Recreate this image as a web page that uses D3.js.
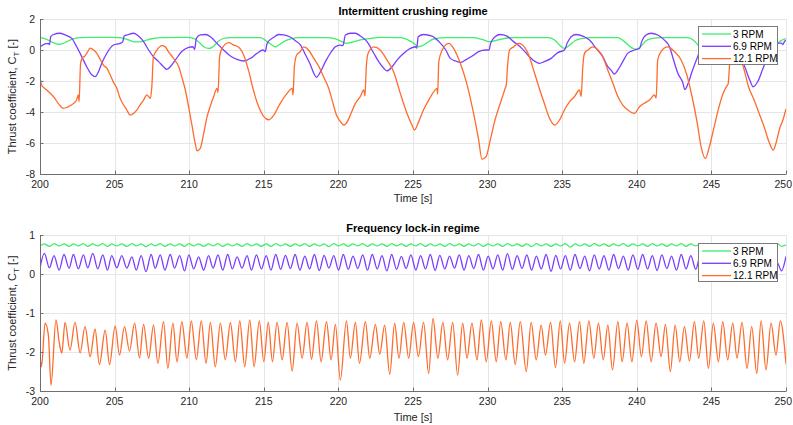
<!DOCTYPE html>
<html><head><meta charset="utf-8">
<script src="https://cdn.jsdelivr.net/npm/d3@7/dist/d3.min.js"></script>
<style>body{margin:0;background:#fff}svg{display:block;font-family:"Liberation Sans",Arial,sans-serif}</style>
</head><body><svg id="c" width="793" height="425"></svg>
<script>
// ---------- DATA ----------
const seriesNames = ["3 RPM", "6.9 RPM", "12.1 RPM"];
const xTicks = [200,205,210,215,220,225,230,235,240,245,250];
const yTicksTop = [-8,-6,-4,-2,0,2];
const yTicksBot = [-3,-2,-1,0,1];
const titles = ["Intermittent crushing regime", "Frequency lock-in regime"];

// Intermittent crushing: [time s, C_T]
const crush3 = [[200,0.82],[200.45,0.69],[200.9,0.47],[201.23,0.37],[201.45,0.39],[201.8,0.54],[202.13,0.69],[202.7,0.8],[203.36,0.82],[204.7,0.82],[205.37,0.8],[205.93,0.65],[206.27,0.54],[206.6,0.52],[206.94,0.58],[207.4,0.71],[208.06,0.8],[209.85,0.82],[210.3,0.75],[210.63,0.54],[210.97,0.21],[211.3,0.1],[211.53,0.17],[211.86,0.47],[212.2,0.71],[212.76,0.8],[214.77,0.8],[215.0,0.7],[215.22,0.54],[215.56,0.32],[215.78,0.21],[216.0,0.32],[216.34,0.54],[216.8,0.71],[217.46,0.8],[219.24,0.8],[219.8,0.71],[220.25,0.54],[220.53,0.43],[220.9,0.5],[221.47,0.65],[222.14,0.75],[222.8,0.82],[224.15,0.8],[224.6,0.69],[225.05,0.43],[225.38,0.21],[225.6,0.26],[225.94,0.47],[226.38,0.71],[227.28,0.8],[229.06,0.8],[229.73,0.65],[230.07,0.54],[230.4,0.58],[230.85,0.69],[231.74,0.8],[234.04,0.8],[234.49,0.65],[234.82,0.32],[235.15,0.1],[235.5,0.32],[235.83,0.58],[236.27,0.73],[236.94,0.8],[238.73,0.8],[239.17,0.54],[239.62,0.17],[239.96,0.04],[240.29,0.26],[240.62,0.6],[241.07,0.75],[241.63,0.8],[243.42,0.8],[243.86,0.58],[244.2,0.21],[244.5,0.0],[244.8,0.2],[245.2,0.6],[245.7,0.78],[246.3,0.8],[248.3,0.8],[248.7,0.6],[249.1,0.35],[249.4,0.45],[249.7,0.62],[250,0.73]];

const crush69 = [[200,0.21],[200.34,0.39],[200.56,0.43],[200.63,0.35],[200.72,0.86],[200.9,1.0],[201.34,1.08],[201.68,0.97],[202.13,0.75],[202.46,0.21],[202.8,-0.43],[203.13,-1.08],[203.47,-1.6],[203.7,-1.72],[203.92,-1.4],[204.14,-0.86],[204.48,-0.21],[204.92,0.32],[205.37,0.43],[205.55,0.54],[205.64,0.9],[205.93,1.0],[206.27,1.08],[206.6,0.9],[206.94,0.54],[207.28,0.0],[207.6,-0.43],[207.95,-0.75],[208.28,-1.08],[208.5,-1.25],[208.73,-1.08],[209.07,-0.65],[209.5,-0.1],[209.96,0.17],[210.25,0.21],[210.36,0.04],[210.48,0.75],[210.74,0.97],[211.08,1.0],[211.42,0.86],[211.86,0.43],[212.31,0.0],[212.76,-0.39],[213.2,-0.6],[213.65,-0.71],[214.1,-0.54],[214.55,-0.21],[214.95,0.0],[215.1,-0.1],[215.22,0.43],[215.67,0.82],[216.0,1.0],[216.34,0.97],[216.8,0.82],[217.12,0.6],[217.46,0.32],[217.8,-0.32],[218.13,-0.97],[218.35,-1.5],[218.53,-1.76],[218.8,-1.4],[219.13,-0.75],[219.46,-0.21],[219.8,0.21],[220.1,0.32],[220.3,0.28],[220.47,0.97],[220.8,1.08],[221.14,1.08],[221.47,0.9],[221.92,0.54],[222.37,-0.21],[222.7,-0.75],[223.04,-1.18],[223.26,-1.35],[223.6,-1.08],[223.93,-0.65],[224.38,-0.21],[224.82,0.1],[225.16,0.21],[225.25,0.12],[225.35,0.86],[225.72,1.0],[226.28,0.9],[226.74,0.54],[227.2,0.0],[227.5,-0.54],[227.85,-0.71],[228.2,-0.8],[228.5,-0.65],[228.97,-0.39],[229.4,-0.1],[229.87,0.0],[230.1,0.0],[230.2,0.43],[230.5,0.86],[230.85,1.0],[231.3,0.9],[231.74,0.54],[232.2,0.2],[232.7,-0.32],[233.04,-0.65],[233.48,-0.86],[233.8,-0.75],[234.26,-0.54],[234.7,-0.17],[235.15,0.0],[235.33,0.43],[235.6,0.86],[235.94,1.0],[236.38,0.9],[236.83,0.64],[237.28,0.1],[237.72,-0.43],[238.06,-1.08],[238.28,-1.3],[238.5,-1.55],[238.73,-1.3],[239.06,-0.75],[239.4,-0.2],[239.84,0.0],[240.18,0.1],[240.33,0.54],[240.62,0.97],[240.96,1.08],[241.4,0.97],[241.85,0.64],[242.2,0.2],[242.45,-0.6],[242.75,-1.5],[243.08,-2.1],[243.22,-2.55],[243.42,-2.2],[243.7,-1.4],[244.05,-0.5],[244.3,0.1],[244.6,0.45],[244.75,0.4],[244.85,0.85],[245.2,1.0],[245.6,0.95],[246.0,0.7],[246.5,0.2],[246.9,-0.5],[247.2,-1.0],[247.57,-1.94],[247.8,-2.37],[248.1,-2.05],[248.46,-1.18],[248.8,-0.4],[249.2,0.2],[249.5,0.45],[249.7,0.45],[249.78,0.35],[249.9,0.55],[250,0.62]];

const crush121 = [[200,-1.72],[200.1,-2.26],[200.45,-2.58],[200.9,-3.0],[201.35,-3.6],[201.57,-3.76],[201.8,-3.7],[202.1,-3.55],[202.45,-3.23],[202.57,-2.9],[202.62,-3.33],[202.72,-0.86],[202.85,-0.5],[203.0,-0.4],[203.2,-0.1],[203.36,0.12],[203.6,0.0],[203.8,-0.2],[204.0,-0.54],[204.25,-0.97],[204.5,-1.2],[204.7,-1.6],[204.9,-2.04],[205.15,-2.47],[205.37,-3.12],[205.6,-3.55],[205.82,-3.87],[206.04,-4.2],[206.27,-4.1],[206.5,-3.87],[206.7,-3.55],[206.94,-3.23],[207.16,-2.9],[207.4,-3.12],[207.5,-2.3],[207.6,-0.43],[207.84,0.0],[208.17,0.28],[208.4,0.2],[208.6,-0.1],[208.95,-0.54],[209.3,-1.08],[209.5,-1.72],[209.74,-2.58],[209.96,-3.66],[210.2,-4.95],[210.4,-6.02],[210.52,-6.5],[210.74,-6.34],[210.97,-5.38],[211.2,-4.3],[211.4,-3.66],[211.64,-3.0],[211.86,-2.47],[211.93,-2.75],[212.04,-0.43],[212.2,0.1],[212.65,0.47],[212.98,0.32],[213.3,0.2],[213.65,-0.32],[214.0,-1.4],[214.3,-2.58],[214.66,-3.66],[215.0,-4.3],[215.33,-4.5],[215.67,-4.2],[216.1,-3.44],[216.56,-2.8],[216.9,-2.47],[216.96,-2.9],[217.05,-1.07],[217.2,-0.32],[217.45,-0.1],[217.68,0.2],[218.0,0.0],[218.35,-0.54],[218.7,-1.08],[219.0,-1.72],[219.35,-2.47],[219.58,-3.23],[219.87,-4.2],[220.13,-4.62],[220.36,-4.84],[220.53,-4.73],[220.8,-4.2],[221.14,-3.44],[221.47,-3.0],[221.7,-2.58],[221.78,-2.95],[221.87,-1.08],[222.0,-0.2],[222.37,0.2],[222.8,0.0],[223.26,-0.65],[223.7,-1.4],[224.15,-2.8],[224.6,-4.09],[224.93,-4.84],[225.1,-5.16],[225.38,-4.62],[225.7,-3.87],[226.05,-3.23],[226.4,-2.69],[226.6,-2.47],[226.65,-2.85],[226.73,-0.75],[226.96,0.0],[227.4,0.43],[227.72,0.1],[228.17,-0.86],[228.6,-2.15],[229.06,-4.09],[229.4,-5.8],[229.62,-7.05],[229.9,-6.88],[230.18,-5.8],[230.5,-4.5],[230.85,-3.44],[231.18,-2.47],[231.25,-2.26],[231.34,-1.0],[231.47,0.0],[231.74,0.2],[232.08,0.43],[232.3,0.35],[232.7,-0.2],[233.15,-1.5],[233.5,-2.58],[233.8,-3.44],[234.15,-4.4],[234.5,-4.84],[234.82,-4.52],[235.15,-3.87],[235.5,-3.33],[235.83,-3.0],[236.16,-2.58],[236.27,-3.0],[236.38,-1.08],[236.5,-0.2],[236.72,0.0],[237.05,0.2],[237.4,0.0],[237.72,-0.43],[238.06,-1.3],[238.4,-2.15],[238.73,-3.0],[239.06,-3.55],[239.4,-3.87],[239.84,-4.09],[240.18,-3.66],[240.5,-3.44],[240.85,-3.23],[241.18,-2.9],[241.3,-3.1],[241.4,-0.65],[241.63,-0.1],[242.07,0.2],[242.52,-0.1],[242.97,-0.65],[243.35,-1.6],[243.7,-3.0],[244.05,-4.7],[244.3,-6.2],[244.6,-7.0],[244.82,-6.4],[245.15,-5.1],[245.5,-3.7],[245.78,-2.8],[246.05,-2.3],[246.12,-2.2],[246.25,-0.6],[246.5,0.2],[246.75,0.35],[247.0,-0.6],[247.2,-1.3],[247.5,-2.4],[247.85,-3.2],[248.2,-4.1],[248.55,-5.0],[248.85,-5.9],[249.15,-6.45],[249.36,-5.9],[249.58,-5.05],[249.8,-4.5],[250,-3.8]];

// Frequency lock-in: [time s, C_T] (extrema of each cycle)
const lock3 = [[200,0.72],[200.29,0.77],[200.63,0.71],[200.94,0.78],[201.28,0.72],[201.61,0.77],[201.95,0.71],[202.24,0.77],[202.57,0.72],[202.91,0.78],[203.2,0.71],[203.54,0.77],[203.87,0.72],[204.21,0.78],[204.52,0.71],[204.81,0.77],[205.15,0.72],[205.48,0.77],[205.82,0.71],[206.16,0.78],[206.45,0.72],[206.78,0.77],[207.1,0.7],[207.45,0.77],[207.72,0.72],[208.06,0.78],[208.37,0.71],[208.73,0.77],[209.02,0.72],[209.36,0.77],[209.69,0.71],[209.98,0.78],[210.3,0.72],[210.63,0.77],[210.97,0.71],[211.3,0.77],[211.6,0.72],[211.93,0.78],[212.25,0.71],[212.58,0.77],[212.89,0.72],[213.21,0.77],[213.54,0.71],[213.88,0.78],[214.17,0.72],[214.51,0.77],[214.84,0.71],[215.16,0.77],[215.48,0.71],[215.8,0.78],[216.13,0.72],[216.45,0.77],[216.78,0.71],[217.1,0.77],[217.42,0.72],[217.75,0.78],[218.07,0.71],[218.39,0.77],[218.72,0.72],[219.04,0.77],[219.36,0.7],[219.69,0.78],[220.01,0.72],[220.33,0.77],[220.66,0.71],[220.98,0.77],[221.3,0.72],[221.63,0.78],[221.95,0.71],[222.27,0.77],[222.6,0.72],[222.92,0.77],[223.25,0.71],[223.57,0.78],[223.9,0.72],[224.22,0.77],[224.54,0.71],[224.86,0.77],[225.19,0.72],[225.51,0.78],[225.84,0.71],[226.16,0.77],[226.48,0.72],[226.8,0.77],[227.13,0.71],[227.45,0.78],[227.78,0.72],[228.1,0.77],[228.42,0.71],[228.74,0.77],[229.07,0.72],[229.39,0.78],[229.72,0.71],[230.04,0.77],[230.36,0.72],[230.68,0.77],[231.01,0.71],[231.33,0.78],[231.66,0.72],[231.98,0.77],[232.31,0.71],[232.63,0.77],[232.95,0.7],[233.27,0.78],[233.6,0.72],[233.92,0.77],[234.25,0.71],[234.57,0.77],[234.89,0.72],[235.21,0.78],[235.54,0.69],[235.86,0.77],[236.19,0.72],[236.51,0.77],[236.83,0.71],[237.15,0.78],[237.48,0.72],[237.8,0.77],[238.13,0.71],[238.45,0.77],[238.77,0.72],[239.1,0.78],[239.42,0.71],[239.74,0.77],[240.07,0.72],[240.39,0.77],[240.72,0.71],[241.04,0.78],[241.36,0.72],[241.68,0.77],[242.01,0.71],[242.33,0.77],[242.66,0.72],[242.98,0.78],[243.3,0.71],[243.62,0.77],[243.95,0.72],[244.27,0.77],[244.6,0.71],[244.92,0.78],[245.24,0.72],[245.56,0.77],[245.89,0.71],[246.21,0.77],[246.54,0.72],[246.86,0.78],[247.18,0.71],[247.5,0.77],[247.83,0.72],[248.15,0.77],[248.48,0.71],[248.8,0.78],[249.12,0.72],[249.45,0.77],[249.7,0.71],[250,0.74]];

const lock69 = [[200,0.15],[200.29,0.53],[200.63,0.16],[200.94,0.47],[201.28,0.1],[201.61,0.5],[201.95,0.15],[202.24,0.5],[202.57,0.13],[202.91,0.49],[203.2,0.16],[203.54,0.53],[203.87,0.13],[204.21,0.49],[204.52,0.1],[204.81,0.47],[205.15,0.16],[205.48,0.47],[205.82,0.15],[206.16,0.44],[206.45,0.1],[206.78,0.47],[207.1,0.06],[207.45,0.5],[207.72,0.15],[208.06,0.49],[208.37,0.1],[208.73,0.5],[209.02,0.15],[209.36,0.47],[209.69,0.08],[209.98,0.49],[210.3,0.13],[210.63,0.44],[210.97,0.1],[211.3,0.47],[211.6,0.15],[211.93,0.49],[212.25,0.1],[212.58,0.5],[212.89,0.13],[213.21,0.44],[213.54,0.15],[213.88,0.47],[214.17,0.1],[214.51,0.49],[214.84,0.13],[215.16,0.47],[215.48,0.1],[215.8,0.5],[216.13,0.12],[216.45,0.48],[216.78,0.14],[217.1,0.5],[217.42,0.1],[217.75,0.46],[218.07,0.13],[218.39,0.5],[218.72,0.09],[219.04,0.48],[219.36,0.15],[219.69,0.47],[220.01,0.1],[220.33,0.5],[220.66,0.12],[220.98,0.46],[221.3,0.14],[221.63,0.49],[221.95,0.1],[222.27,0.5],[222.6,0.13],[222.92,0.47],[223.25,0.08],[223.57,0.5],[223.9,0.12],[224.22,0.45],[224.54,0.14],[224.86,0.49],[225.19,0.1],[225.51,0.47],[225.84,0.13],[226.16,0.5],[226.48,0.09],[226.8,0.48],[227.13,0.13],[227.45,0.46],[227.78,0.15],[228.1,0.49],[228.42,0.1],[228.74,0.47],[229.07,0.14],[229.39,0.5],[229.72,0.1],[230.04,0.46],[230.36,0.13],[230.68,0.49],[231.01,0.1],[231.33,0.52],[231.66,0.12],[231.98,0.47],[232.31,0.14],[232.63,0.49],[232.95,0.1],[233.27,0.46],[233.6,0.13],[233.92,0.5],[234.25,0.07],[234.57,0.48],[234.89,0.13],[235.21,0.47],[235.54,0.1],[235.86,0.5],[236.19,0.14],[236.51,0.46],[236.83,0.08],[237.15,0.49],[237.48,0.13],[237.8,0.47],[238.13,0.1],[238.45,0.5],[238.77,0.14],[239.1,0.46],[239.42,0.1],[239.74,0.49],[240.07,0.12],[240.39,0.5],[240.72,0.13],[241.04,0.47],[241.36,0.09],[241.68,0.49],[242.01,0.14],[242.33,0.46],[242.66,0.1],[242.98,0.5],[243.3,0.13],[243.62,0.47],[243.95,0.12],[244.27,0.49],[244.6,0.1],[244.92,0.47],[245.24,0.14],[245.56,0.5],[245.89,0.1],[246.21,0.46],[246.54,0.13],[246.86,0.49],[247.18,0.12],[247.5,0.47],[247.83,0.1],[248.15,0.5],[248.48,0.13],[248.8,0.46],[249.12,0.13],[249.4,0.3],[249.7,0.08],[250,0.45]];

const lock121 = [[200,-2.05],[200.1,-2.38],[200.34,-1.26],[200.56,-1.56],[200.74,-2.85],[201.07,-1.18],[201.3,-1.78],[201.46,-2.03],[201.68,-1.24],[202.01,-1.95],[202.35,-1.24],[202.69,-2.02],[203.02,-1.35],[203.36,-2.12],[203.69,-1.41],[203.98,-2.32],[204.37,-1.44],[204.66,-2.32],[205.04,-1.33],[205.33,-2.08],[205.66,-1.35],[206.0,-1.97],[206.34,-1.26],[206.67,-2.15],[206.94,-1.29],[207.28,-2.16],[207.61,-1.31],[207.9,-2.29],[208.28,-1.22],[208.57,-2.42],[208.91,-1.26],[209.18,-2.25],[209.51,-1.22],[209.85,-2.16],[210.14,-1.2],[210.48,-2.2],[210.81,-1.2],[211.13,-2.29],[211.42,-1.24],[211.75,-2.38],[212.09,-1.26],[212.42,-2.2],[212.76,-1.25],[213.1,-2.25],[213.39,-1.2],[213.72,-2.38],[214.06,-1.18],[214.35,-2.38],[214.7,-1.2],[215.0,-2.25],[215.3,-1.24],[215.58,-2.25],[215.89,-1.24],[216.23,-2.2],[216.56,-1.24],[216.9,-2.49],[217.23,-1.26],[217.57,-2.16],[217.9,-1.24],[218.2,-2.18],[218.53,-1.2],[218.84,-2.25],[219.2,-1.22],[219.51,-2.2],[219.8,-1.29],[220.13,-2.72],[220.54,-1.2],[220.8,-2.16],[221.14,-1.24],[221.41,-2.29],[221.81,-1.22],[222.1,-2.16],[222.48,-1.29],[222.77,-2.06],[223.1,-1.31],[223.44,-2.57],[223.77,-1.26],[224.06,-2.16],[224.38,-1.24],[224.71,-2.16],[225.04,-1.24],[225.36,-2.12],[225.71,-1.24],[226.05,-2.55],[226.34,-1.14],[226.67,-2.16],[227.0,-1.24],[227.32,-2.2],[227.66,-1.24],[227.99,-2.59],[228.33,-1.26],[228.62,-2.16],[228.95,-1.26],[229.29,-2.2],[229.58,-1.18],[229.91,-2.25],[230.25,-1.2],[230.58,-2.25],[230.88,-1.22],[231.23,-2.2],[231.52,-1.24],[231.85,-2.32],[232.19,-1.22],[232.59,-2.5],[232.92,-1.24],[233.26,-2.2],[233.59,-1.31],[233.88,-2.08],[234.22,-1.24],[234.55,-2.4],[234.87,-1.2],[235.16,-2.29],[235.49,-1.26],[235.83,-2.25],[236.16,-1.22],[236.45,-2.29],[236.79,-1.2],[237.12,-2.16],[237.43,-1.26],[237.75,-2.2],[238.06,-1.31],[238.37,-2.46],[238.73,-1.22],[239.02,-2.25],[239.35,-1.26],[239.67,-2.25],[240.0,-1.19],[240.31,-2.12],[240.63,-1.2],[240.96,-2.25],[241.29,-1.26],[241.63,-2.12],[241.92,-1.29],[242.25,-2.5],[242.57,-1.31],[242.88,-2.25],[243.19,-1.35],[243.53,-2.23],[243.86,-1.22],[244.15,-2.16],[244.49,-1.2],[244.8,-2.42],[245.13,-1.26],[245.47,-2.25],[245.76,-1.22],[246.09,-2.2],[246.43,-1.26],[246.72,-2.16],[247.05,-1.24],[247.39,-2.42],[247.7,-1.35],[248.04,-2.55],[248.33,-1.2],[248.66,-2.46],[249.0,-1.26],[249.33,-2.08],[249.62,-1.2],[250,-2.3]];

// ---------- DRAW ----------
const colors = ["#3ded6e", "#7a3dff", "#ff6b2c"];
const svg = d3.select("#c");

const x = d3.scaleLinear().domain([200,250]).range([40,786]);
const panels = [
  {title: titles[0], y: d3.scaleLinear().domain([-8,2]).range([174,19]), ticks: yTicksTop, data:[crush3,crush69,crush121], titleY: 15, xlabY: 202, leg:{x:698,y:26}},
  {title: titles[1], y: d3.scaleLinear().domain([-3,1]).range([391,235]), ticks: yTicksBot, data:[lock3,lock69,lock121], titleY: 232, xlabY: 421, leg:{x:698,y:243}}
];

panels.forEach((p,pi) => {
  const g = svg.append("g");
  const [y0,y1] = p.y.range();
  // grid
  g.selectAll(".gx").data(xTicks).join("line")
    .attr("x1", d=>Math.round(x(d))+0.5).attr("x2", d=>Math.round(x(d))+0.5)
    .attr("y1", y1).attr("y2", y0).attr("stroke","#e6e6e6").attr("stroke-width",1);
  g.selectAll(".gy").data(p.ticks).join("line")
    .attr("x1", 40).attr("x2", 786)
    .attr("y1", d=>Math.round(p.y(d))+0.5).attr("y2", d=>Math.round(p.y(d))+0.5)
    .attr("stroke","#e6e6e6").attr("stroke-width",1);
  // clip
  const cid = "clip"+pi;
  svg.append("clipPath").attr("id",cid).append("rect").attr("x",40).attr("y",y1).attr("width",746).attr("height",y0-y1);
  const line = d3.line().x(d=>x(d[0])).y(d=>p.y(d[1])).curve(d3.curveMonotoneX);
  const lg = g.append("g").attr("clip-path",`url(#${cid})`);
  p.data.forEach((s,i) => {
    lg.append("path").attr("d", line(s)).attr("fill","none")
      .attr("stroke", colors[i]).attr("stroke-width", 1.3).attr("stroke-linejoin","round");
  });
  // axes lines
  g.append("line").attr("x1",40.5).attr("x2",40.5).attr("y1",y1).attr("y2",y0+0.5).attr("stroke","#6f6f6f");
  g.append("line").attr("x1",40).attr("x2",786.5).attr("y1",Math.round(y0)+0.5).attr("y2",Math.round(y0)+0.5).attr("stroke","#6f6f6f");
  // ticks
  g.selectAll(".tx").data(xTicks).join("line")
    .attr("x1", d=>Math.round(x(d))+0.5).attr("x2", d=>Math.round(x(d))+0.5)
    .attr("y1", y0).attr("y2", y0-3.5).attr("stroke","#6f6f6f");
  g.selectAll(".ty").data(p.ticks).join("line")
    .attr("x1", 40).attr("x2", 43.5)
    .attr("y1", d=>Math.round(p.y(d))+0.5).attr("y2", d=>Math.round(p.y(d))+0.5).attr("stroke","#6f6f6f");
  // tick labels (last one kept inside the window)
  g.selectAll(".lx").data(xTicks).join("text")
    .attr("x", d=> d===250 ? 792 : x(d)).attr("y", y0+14)
    .attr("text-anchor", d=> d===250 ? "end" : "middle")
    .attr("font-size",10.5).attr("fill","#262626").text(d=>d);
  g.selectAll(".ly").data(p.ticks).join("text")
    .attr("x", 35).attr("y", d=>p.y(d)+3.8).attr("text-anchor","end")
    .attr("font-size",10.5).attr("fill","#262626").text(d=>d);
  // title
  g.append("text").attr("x",413).attr("y",p.titleY).attr("text-anchor","middle")
    .attr("font-size",11).attr("font-weight","bold").attr("fill","#000").text(p.title);
  // x label
  g.append("text").attr("x",413).attr("y",p.xlabY).attr("text-anchor","middle")
    .attr("font-size",11).attr("fill","#262626").text("Time [s]");
  // y label
  const yl = g.append("text").attr("transform",`translate(16,${(y0+y1)/2}) rotate(-90)`)
    .attr("text-anchor","middle").attr("font-size",11).attr("fill","#262626");
  yl.append("tspan").text("Thrust coefficient, C");
  yl.append("tspan").attr("font-size",8).attr("dy",3).text("T");
  yl.append("tspan").attr("dy",-3).text(" [-]");
  // legend
  const L = p.leg;
  const lgd = g.append("g");
  lgd.append("rect").attr("x",L.x+0.5).attr("y",L.y+0.5).attr("width",79).attr("height",38)
    .attr("fill","#fff").attr("stroke","#7a7a7a").attr("stroke-width",1);
  seriesNames.forEach((n,i) => {
    const yy = L.y + 8 + i*12.3;
    lgd.append("line").attr("x1",L.x+4).attr("x2",L.x+33).attr("y1",yy).attr("y2",yy)
      .attr("stroke",colors[i]).attr("stroke-width",1.3);
    lgd.append("text").attr("x",L.x+35).attr("y",yy+3.6).attr("font-size",10)
      .attr("fill","#000").text(n);
  });
});
</script></body></html>
